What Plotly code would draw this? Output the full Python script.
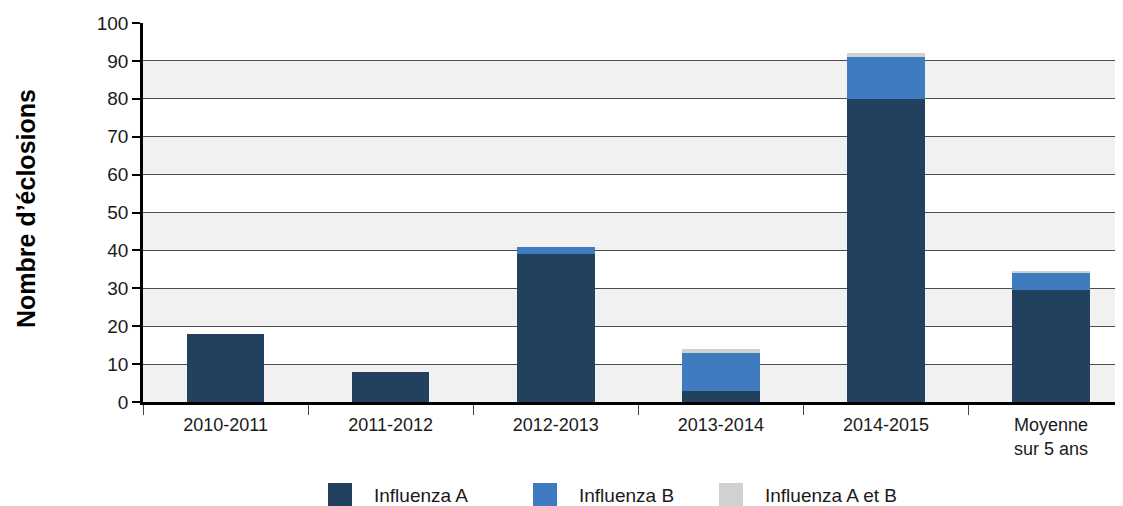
import plotly.graph_objects as go

categories = ["2010-2011", "2011-2012", "2012-2013", "2013-2014", "2014-2015", "Moyenne<br>sur 5 ans"]
influenza_a = [18, 8, 39, 3, 80, 29.6]
influenza_b = [0, 0, 2, 10, 11, 4.6]
influenza_ab = [0, 0, 0, 1, 1, 0.4]
series_names = ["Influenza A", "Influenza B", "Influenza A et B"]
y_ticks = [0, 10, 20, 30, 40, 50, 60, 70, 80, 90, 100]

colors = ["#22415f", "#3f7bbf", "#d0d1d3"]

# figure geometry (pixels); page body adds an 8px offset
OFF = 8
W, H = 1123, 506
L, R, T, B = 135, 0, 15, 112
pw, ph = W - L - R, H - T - B

def px_x(sx):
    return (sx - OFF - L) / pw

def px_y(sy):
    return (H - B - (sy - OFF)) / ph

fig = go.Figure()
for name, vals, col in zip(series_names, [influenza_a, influenza_b, influenza_ab], colors):
    fig.add_trace(go.Bar(x=categories, y=vals, marker=dict(color=col, line=dict(width=0)),
                         width=0.47, showlegend=False, name=name))

shapes = []
for lo in range(0, 100, 20):
    shapes.append(dict(type="rect", xref="paper", yref="y", x0=0, x1=1, y0=lo, y1=lo + 10,
                       fillcolor="#f1f1f1", line=dict(width=0), layer="below"))

annotations = []
# manual legend
legend_swatch_x = [328, 533, 719]
for name, col, sx in zip(series_names, colors, legend_swatch_x):
    shapes.append(dict(type="rect", xref="paper", yref="paper",
                       x0=px_x(sx), x1=px_x(sx + 24), y0=px_y(483), y1=px_y(507),
                       fillcolor=col, line=dict(width=0)))
    annotations.append(dict(text=name, xref="paper", yref="paper", x=px_x(sx + 44), y=px_y(495),
                            xanchor="left", yanchor="middle", showarrow=False,
                            font=dict(size=19, color="#1a1a1a")))
# y-axis title
annotations.append(dict(text="<b>Nombre d’éclosions</b>", xref="paper", yref="paper",
                        x=px_x(26), y=px_y(209), textangle=-90, showarrow=False,
                        xanchor="center", yanchor="middle",
                        font=dict(size=25, color="#000000")))

fig.update_layout(
    width=W, height=H,
    margin=dict(l=L, r=R, t=T, b=B),
    plot_bgcolor="white", paper_bgcolor="white",
    barmode="stack",
    shapes=shapes,
    annotations=annotations,
    showlegend=False,
    font=dict(family="Liberation Sans, Arial, sans-serif", color="#1a1a1a"),
    yaxis=dict(range=[0, 100], tickvals=y_ticks, ticks="outside", ticklen=8, tickwidth=1.5,
               tickcolor="black", showline=True, linecolor="black", linewidth=2.5,
               showgrid=True, gridcolor="#4d4d4d", gridwidth=1.4, zeroline=False,
               tickfont=dict(size=19), automargin=False),
    xaxis=dict(type="category", range=[-0.5, 5.484], tickson="boundaries", ticks="outside",
               ticklen=10, tickwidth=1, tickcolor="#444", showline=True, linecolor="black",
               linewidth=2.5, tickfont=dict(size=18), automargin=False, ticklabelstandoff=5),
)

fig.write_html("out.html")
